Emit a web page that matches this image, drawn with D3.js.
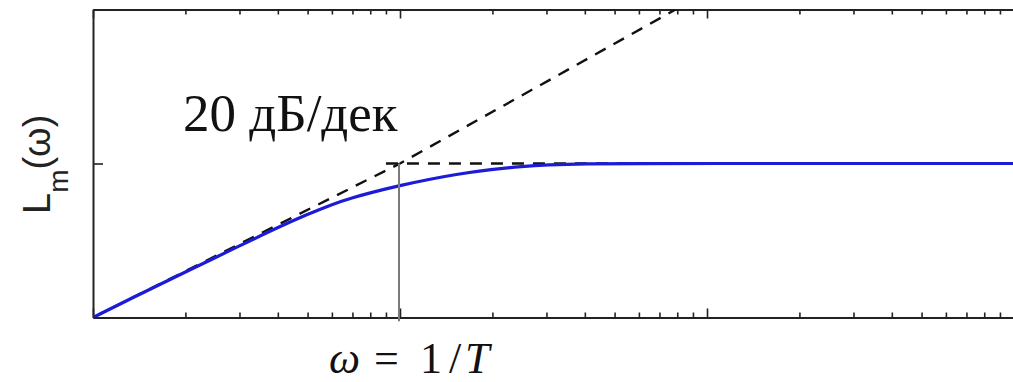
<!DOCTYPE html>
<html>
<head>
<meta charset="utf-8">
<script src="https://cdn.jsdelivr.net/npm/d3@7"></script>
<style>
  html, body { margin: 0; padding: 0; background: #fff; }
  svg { display: block; }
</style>
</head>
<body>
<svg id="chart" width="1013" height="382"></svg>
<script>
// Frequency response (log frequency, dB)
const omega = [0.1, 0.15, 0.2, 0.3, 0.4, 0.5, 0.6, 0.7, 0.8, 1, 1.25, 1.5, 2, 2.5, 3, 4, 6, 10, 30, 100];
const lm = [-20, -16.5, -14.1, -10.7, -8.3, -6.6, -5.3, -4.45, -3.8, -2.85, -2.05, -1.45, -0.75, -0.38, -0.18, -0.03, 0, 0, 0, 0];

// asymptotes
const slopeOmega = [0.1, 1, 7.9];
const slopeLm = [-20, 0, 20];
const flatOmega = [0.9, 100];
const flatLm = [0, 0];
const breakOmega = 1;

const minorTicks = [2, 3, 4, 5, 6, 7, 8, 9].flatMap(k => [0.1 * k, k, 10 * k]);
const majorTicks = [0.1, 1, 10, 100];

const svg = d3.select('#chart');
const mLeft = 93, mRight = 1014, mTop = 9.5, mBottom = 317.5;

const x = d3.scaleLog().domain([0.1, 100]).range([mLeft, mRight]);
const y = d3.scaleLinear().domain([-20, 20]).range([mBottom, mTop]);

svg.append('defs').append('clipPath').attr('id', 'plot')
  .append('rect')
  .attr('x', mLeft).attr('y', mTop)
  .attr('width', mRight - mLeft).attr('height', mBottom - mTop);

// axes / frame
function styleAxis(g) {
  g.selectAll('path.domain').attr('stroke', '#222').attr('stroke-width', 2);
  g.selectAll('.tick line').attr('stroke', '#222').attr('stroke-width', 1.6);
  g.selectAll('.tick text').remove();
}

svg.append('g').attr('transform', `translate(0,${mBottom})`)
  .call(d3.axisBottom(x).tickValues(minorTicks).tickSize(-5).tickSizeOuter(0).tickFormat(''))
  .call(styleAxis);
svg.append('g').attr('transform', `translate(0,${mBottom})`)
  .call(d3.axisBottom(x).tickValues(majorTicks).tickSize(-9).tickSizeOuter(0).tickFormat(''))
  .call(styleAxis);
svg.append('g').attr('transform', `translate(0,${mTop})`)
  .call(d3.axisTop(x).tickValues(minorTicks).tickSize(-5).tickSizeOuter(0).tickFormat(''))
  .call(styleAxis);
svg.append('g').attr('transform', `translate(0,${mTop})`)
  .call(d3.axisTop(x).tickValues(majorTicks).tickSize(-9).tickSizeOuter(0).tickFormat(''))
  .call(styleAxis);
svg.append('g').attr('transform', `translate(${mLeft},0)`)
  .call(d3.axisLeft(y).tickValues([0]).tickSize(-10).tickSizeOuter(0).tickFormat(''))
  .call(styleAxis);

const plot = svg.append('g').attr('clip-path', 'url(#plot)');

const line = d3.line().x(d => x(d[0])).y(d => y(d[1]));

// vertical marker at the corner frequency
svg.append('line')
  .attr('x1', x(breakOmega) - 1).attr('x2', x(breakOmega) - 1)
  .attr('y1', y(0)).attr('y2', y(-20.5))
  .attr('stroke', '#7a7a7a').attr('stroke-width', 2);

plot.append('path')
  .datum(d3.zip(slopeOmega, slopeLm))
  .attr('d', line)
  .attr('fill', 'none').attr('stroke', '#111')
  .attr('stroke-width', 2.4).attr('stroke-dasharray', '12,9');

plot.append('path')
  .datum(d3.zip(flatOmega, flatLm))
  .attr('d', line)
  .attr('fill', 'none').attr('stroke', '#111')
  .attr('stroke-width', 2.4).attr('stroke-dasharray', '12,9');

plot.append('path')
  .datum(d3.zip(omega, lm))
  .attr('d', line.curve(d3.curveBasis))
  .attr('fill', 'none').attr('stroke', '#1c1cd8')
  .attr('stroke-width', 3.2).attr('stroke-linecap', 'round');

// labels
svg.append('text')
  .attr('x', 183).attr('y', 131)
  .attr('font-family', '"Liberation Serif", "Times New Roman", serif')
  .attr('font-size', 53).attr('fill', '#111')
  .text('20 дБ/дек');

const yl = svg.append('text')
  .attr('transform', 'translate(50,214) rotate(-90)')
  .attr('font-family', '"Liberation Sans", Arial, sans-serif')
  .attr('font-size', 38).attr('fill', '#222');
yl.append('tspan').text('L');
yl.append('tspan').attr('font-size', 28).attr('dy', 18).text('m');
yl.append('tspan').attr('dy', -18).text('(ω)');

const xl = svg.append('text')
  .attr('y', 372.5)
  .attr('font-family', '"Liberation Serif", "Times New Roman", serif')
  .attr('font-size', 44).attr('fill', '#111');
xl.append('tspan').attr('x', 329).attr('font-style', 'italic').text('ω');
xl.append('tspan').attr('x', 374).text('=');
xl.append('tspan').attr('x', 420).text('1');
xl.append('tspan').attr('x', 449).text('/');
xl.append('tspan').attr('x', 465).attr('font-style', 'italic').text('T');
</script>
</body>
</html>
